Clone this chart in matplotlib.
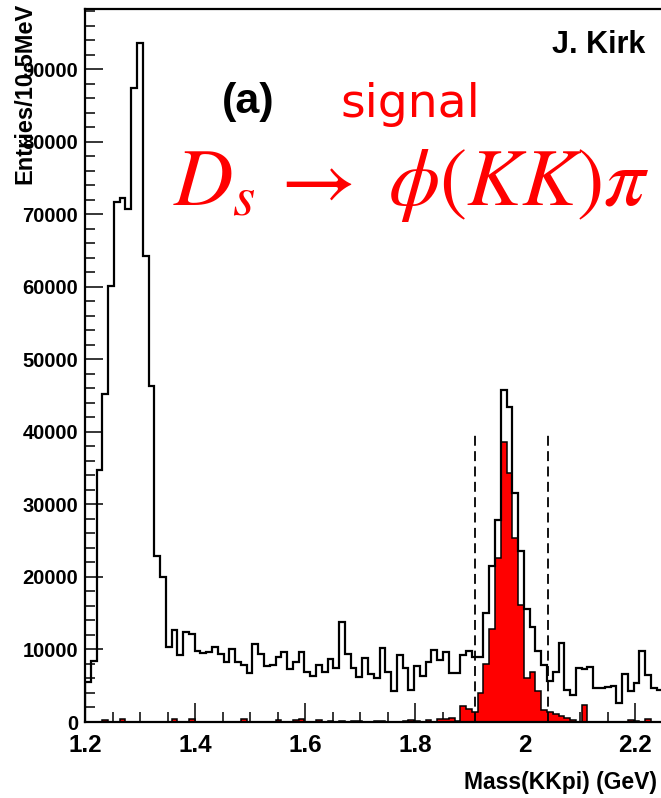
import numpy as np
import matplotlib
matplotlib.use("Agg")
import matplotlib.pyplot as plt

# ---- data ----
x_min, x_max, n_bins = 1.2, 2.25, 100
all_counts = [5500, 8400, 34750, 45150, 60150, 71650, 72230, 70730, 87330, 93600,
              64200, 46350, 22900, 20050, 10270, 12620, 9300, 12470, 12170, 9830,
              9450, 9630, 10280, 9320, 8320, 10000, 8310, 7830, 6750, 10700,
              9420, 7760, 7800, 8900, 9690, 7250, 8240, 9650, 6930, 6290,
              7850, 6860, 8630, 7390, 13730, 9390, 7390, 6150, 8770, 6580,
              6010, 10200, 6900, 4270, 9280, 7500, 4410, 7670, 6290, 8240,
              9920, 8540, 9690, 6700, 6800, 9280, 9730, 9000, 9000, 15000,
              21500, 27780, 45730, 43480, 31550, 23580, 15570, 13060, 9730, 7900,
              5720, 6930, 10930, 4370, 3770, 7500, 7320, 7580, 4690, 4690,
              4870, 5000, 2620, 6590, 4230, 5330, 9730, 6520, 4620, 4370]
signal_counts = [0, 0, 0, 300, 0, 0, 350, 0, 0, 0,
                 0, 0, 0, 0, 0, 450, 0, 0, 400, 0,
                 0, 0, 0, 0, 0, 0, 0, 450, 0, 0,
                 0, 0, 0, 250, 0, 0, 300, 400, 0, 0,
                 250, 0, 150, 0, 100, 0, 150, 100, 0, 0,
                 100, 150, 0, 0, 0, 200, 250, 100, 0, 300,
                 0, 400, 480, 620, 160, 2250, 1790, 1330, 4000, 7960,
                 12760, 22600, 38650, 34300, 25420, 16170, 6060, 6910, 4220, 1600,
                 1330, 1150, 820, 620, 320, 0, 2380, 0, 0, 0,
                 0, 0, 0, 0, 280, 100, 0, 420, 0, 0]
cut_lo, cut_hi, cut_height = 1.909, 2.041, 40000
x_ticks = [1.2, 1.4, 1.6, 1.8, 2.0, 2.2]
x_ticklabels = ["1.2", "1.4", "1.6", "1.8", "2", "2.2"]
y_ticks = [0, 10000, 20000, 30000, 40000, 50000, 60000, 70000, 80000, 90000]

W, H = 661, 798
fig = plt.figure(figsize=(W / 100, H / 100), dpi=100)
plt.rcParams['font.family'] = ['Liberation Sans', 'DejaVu Sans']
plt.rcParams['mathtext.fontset'] = 'stix'

ax = fig.add_axes([85 / W, (H - 722) / H, 577.5 / W, 713 / H])
edges = np.linspace(x_min, x_max, n_bins + 1)

ax.stairs(signal_counts, edges, fill=True, facecolor='#ff0000',
          edgecolor='black', linewidth=1.1, zorder=2)
ax.stairs(all_counts, edges, color='black', linewidth=1.6, zorder=3)

for c in (cut_lo, cut_hi):
    ax.plot([c, c], [0, cut_height], color='black', lw=1.3,
            ls=(0, (5.5, 3)), zorder=4)

ax.set_xlim(x_min, x_max)
ax.set_ylim(0, 1.05 * max(all_counts))
ax.set_xticks(x_ticks)
ax.set_xticklabels(x_ticklabels)
ax.set_xticks(np.arange(1.2, 2.2501, 0.05), minor=True)
ax.set_yticks(y_ticks)
ax.set_yticklabels([str(v) for v in y_ticks])
ax.set_yticks(np.arange(0, 98001, 2000), minor=True)

ax.tick_params(axis='both', which='both', direction='in', width=1.1,
               top=False, right=False)
ax.tick_params(axis='x', which='major', length=14, labelsize=17.5, pad=9)
ax.tick_params(axis='x', which='minor', length=7)
ax.tick_params(axis='y', which='major', length=13, labelsize=14.5, pad=5)
ax.tick_params(axis='y', which='minor', length=7)
for lab in ax.get_xticklabels() + ax.get_yticklabels():
    lab.set_fontweight('bold')
for s in ax.spines.values():
    s.set_linewidth(1.6)

fig.text(25 / W, 1 - 3 / H, "Entries/10.5MeV", rotation=90, ha='center',
         va='top', fontsize=17, fontweight='bold')
fig.text(657 / W, 1 - 783 / H, "Mass(KKpi) (GeV)", ha='right', va='center',
         fontsize=16.5, fontweight='bold')

fig.text(645 / W, 1 - 53 / H, "J. Kirk", ha='right', va='baseline',
         fontsize=22, fontweight='bold')
fig.text(222 / W, 1 - 113 / H, "(a)", ha='left', va='baseline',
         fontsize=31, fontweight='bold')
fig.text(340 / W, 1 - 117 / H, "signal", ha='left', va='baseline',
         fontsize=34, color='#ff0000', family=['DejaVu Sans'])
fig.text(173 / W, 1 - 205 / H, r"$D_{s}\,\rightarrow\,\,\phi(KK)\pi$",
         ha='left', va='baseline', fontsize=59, color='#ff0000')

fig.savefig("out.png", dpi=100)
